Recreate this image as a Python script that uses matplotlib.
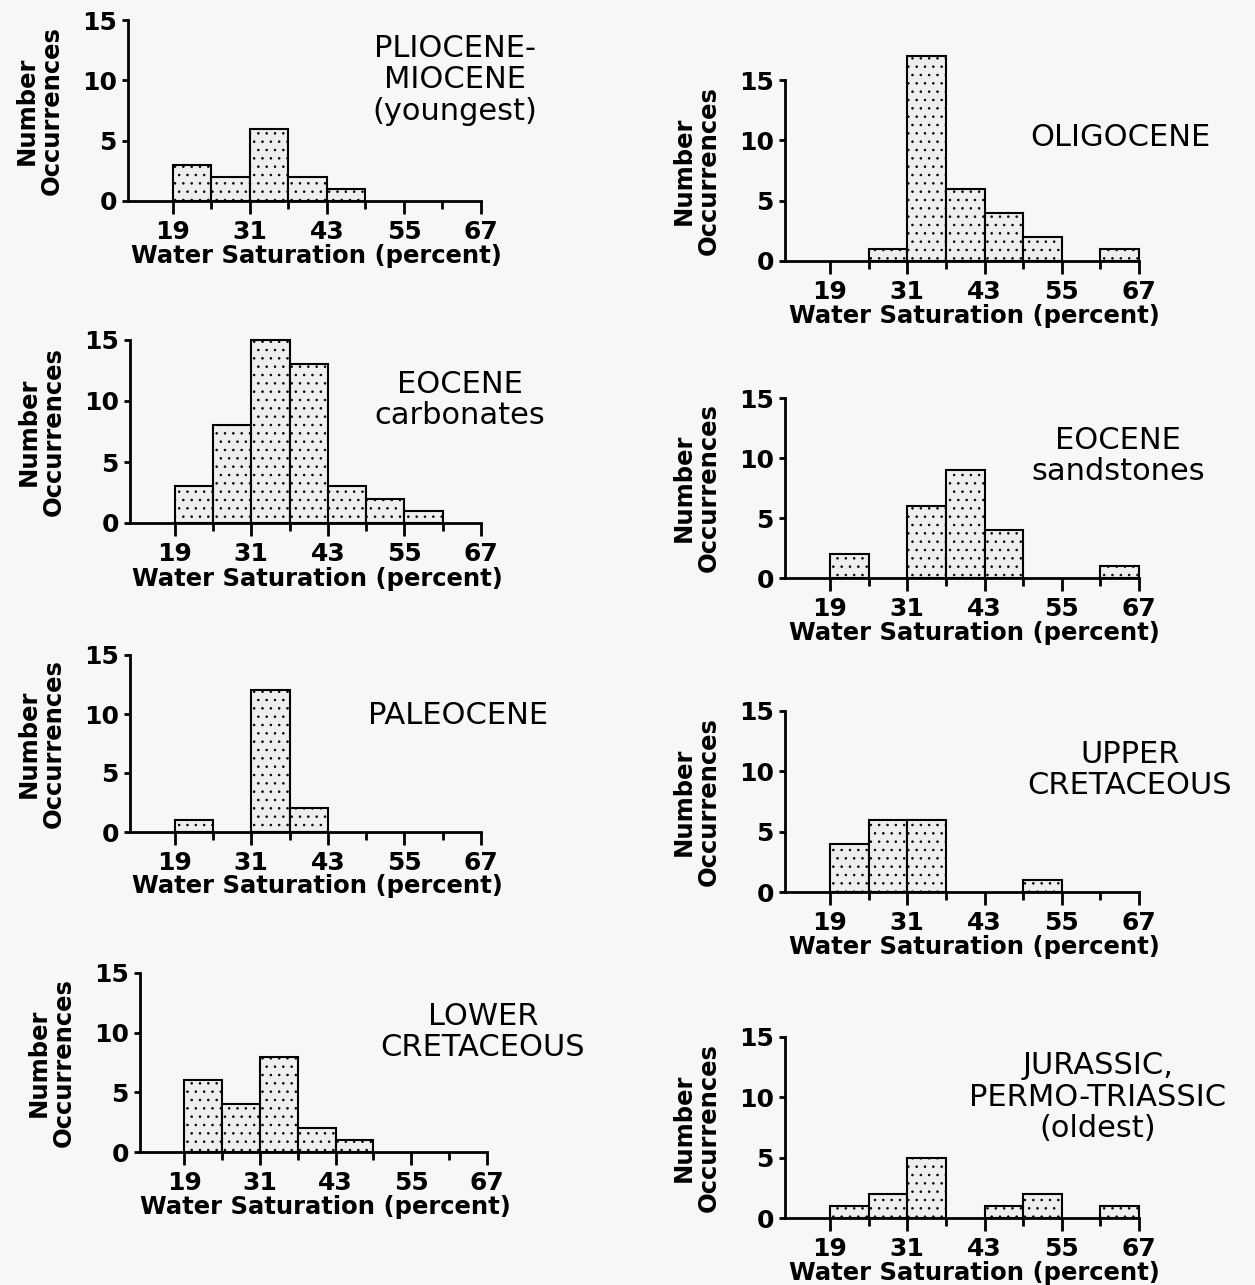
import numpy as np
import matplotlib
matplotlib.use("Agg")
import matplotlib.pyplot as plt

plt.rcParams['font.family'] = ['DejaVu Sans']
plt.rcParams['hatch.color'] = '#a0a0a0'
plt.rcParams['hatch.linewidth'] = 0.6

# bin left edges (percent water saturation), bins are 6 wide
bin_left = [19, 25, 31, 37, 43, 49, 55, 61]

# counts per bin for each age group
pliocene = [3, 2, 6, 2, 1, 0, 0, 0]
oligocene = [0, 1, 17, 6, 4, 2, 0, 1]
eocene_carb = [3, 8, 15, 13, 3, 2, 1, 0]
eocene_sand = [2, 0, 6, 9, 4, 0, 0, 1]
paleocene = [1, 0, 12, 2, 0, 0, 0, 0]
upper_cret = [4, 6, 6, 0, 0, 1, 0, 0]
lower_cret = [6, 4, 8, 2, 1, 0, 0, 0]
jurassic = [1, 2, 5, 0, 1, 2, 0, 1]

titles = ["PLIOCENE-\nMIOCENE\n(youngest)", "OLIGOCENE",
          "EOCENE\ncarbonates", "EOCENE\nsandstones",
          "PALEOCENE", "UPPER\nCRETACEOUS",
          "LOWER\nCRETACEOUS", "JURASSIC,\nPERMO-TRIASSIC\n(oldest)"]
all_counts = [pliocene, oligocene, eocene_carb, eocene_sand,
              paleocene, upper_cret, lower_cret, jurassic]

major_ticks = [19, 31, 43, 55, 67]
minor_ticks = [25, 37, 49, 61]
y_ticks = [0, 5, 10, 15]

W, H = 1255, 1285
fig = plt.figure(figsize=(W / 100, H / 100), dpi=100)
fig.patch.set_facecolor('#f7f7f7')

# axes boxes in pixels: left, right, top(y=15), bottom(y=0)
boxes = [(128, 481, 20, 201), (785, 1139, 80, 261),
         (130, 481, 340, 523), (785, 1139, 398, 578),
         (130, 481, 655, 832), (785, 1139, 711, 892),
         (140, 487, 973, 1152), (785, 1139, 1037, 1218)]
# title centre positions in pixels (x, y of middle of text block)
title_pos = [(455, 80), (1120, 137), (460, 400), (1118, 456),
             (458, 716), (1130, 770), (483, 1032), (1098, 1097)]

for counts, title, box, tp in zip(all_counts, titles, boxes, title_pos):
    l, r, t, b = box
    ax = fig.add_axes([l / W, 1 - b / H, (r - l) / W, (b - t) / H])
    ax.set_facecolor('none')
    xs = [x for x, c in zip(bin_left, counts) if c > 0]
    hs = [c for c in counts if c > 0]
    ax.bar(xs, hs, width=6, align='edge', facecolor='#eeeeee',
           edgecolor='black', linewidth=1.5, hatch='..', clip_on=False)
    ax.set_xlim(12, 67)
    ax.set_ylim(0, 15)
    for s in ['top', 'right']:
        ax.spines[s].set_visible(False)
    for s in ['left', 'bottom']:
        ax.spines[s].set_linewidth(2)
    ax.set_xticks(major_ticks)
    ax.set_xticks(minor_ticks, minor=True)
    ax.set_yticks(y_ticks)
    ax.tick_params(axis='x', which='major', length=9, width=2, pad=5,
                   labelsize=18)
    ax.tick_params(axis='x', which='minor', length=6, width=2)
    ax.tick_params(axis='y', length=4, width=2, pad=4, labelsize=18)
    for lab in ax.get_xticklabels() + ax.get_yticklabels():
        lab.set_fontweight('bold')
    ax.set_xlabel("Water Saturation (percent)", fontsize=17.5,
                  fontweight='bold')
    ax.xaxis.set_label_coords(0.535, -0.24)
    ax.set_ylabel("Number\nOccurrences", fontsize=17.5, fontweight='bold',
                  labelpad=13, linespacing=1.05)
    fig.text(tp[0] / W, 1 - tp[1] / H, title, ha='center', va='center',
             fontsize=22, linespacing=1.1)

fig.savefig("out.png", dpi=100, facecolor=fig.get_facecolor())
